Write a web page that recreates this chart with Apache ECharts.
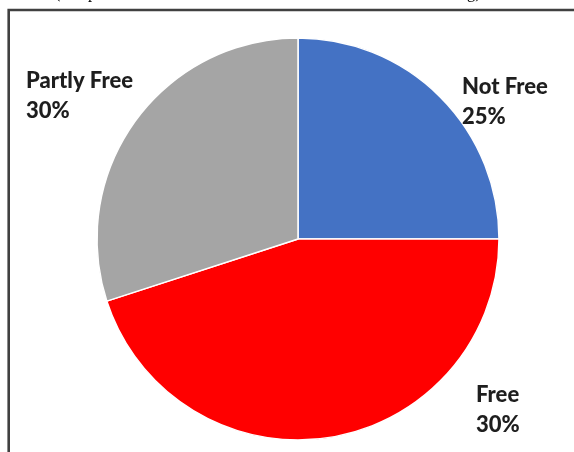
<!DOCTYPE html>
<html>
<head>
<meta charset="utf-8">
<script src="https://cdn.jsdelivr.net/npm/echarts@6/dist/echarts.min.js"></script>
<style>
html,body{margin:0;padding:0;background:#fff;}
#c{width:574px;height:452px;}
</style>
</head>
<body>
<div id="c"></div>
<script>
// Data (slice sizes from geometry; label texts as printed)
const categories = ['Not Free', 'Free', 'Partly Free'];
const values = [25, 45, 30];
const labelTexts = ['25%', '30%', '30%'];
const colors = ['#4472C4', '#FF0000', '#A5A5A5'];
const caption = '(Adapted from Freedom House: Freedom in the World Ranking)';

// label anchor positions (top-left of text block)
const labelPos = [[462, 72], [476, 380], [26, 66]];

const chart = echarts.init(document.getElementById('c'), null, {renderer: 'canvas'});
chart.setOption({
  animation: false,
  backgroundColor: '#fff',
  graphic: [
    {type: 'rect', silent: true, z: 10,
     shape: {x: 8.7, y: 10, width: 620, height: 520},
     style: {fill: 'none', stroke: '#404040', lineWidth: 2.6}},
    {type: 'text', silent: true, left: 55, top: -15,
     style: {text: caption, font: '16.5px "Liberation Serif"', fill: '#000'}}
  ],
  series: [{
    type: 'pie',
    center: [298, 239],
    radius: 201,
    startAngle: 90,
    clockwise: true,
    data: categories.map((c, i) => ({
      name: c, value: values[i],
      itemStyle: {color: colors[i]}
    })),
    itemStyle: {borderColor: '#fff', borderWidth: 1.5},
    label: {
      show: true,
      position: 'outside',
      formatter: p => p.name + '\n' + labelTexts[p.dataIndex],
      fontFamily: 'Lato',
      fontWeight: 900,
      fontSize: 22,
      lineHeight: 30,
      color: '#1e1e1e',
      align: 'left',
      overflow: 'none',
      width: 200
    },
    labelLine: {show: false},
    labelLayout: p => ({
      x: labelPos[p.dataIndex][0],
      y: labelPos[p.dataIndex][1],
      align: 'left',
      verticalAlign: 'top'
    }),
    emphasis: {disabled: true}
  }]
});
</script>
</body>
</html>
